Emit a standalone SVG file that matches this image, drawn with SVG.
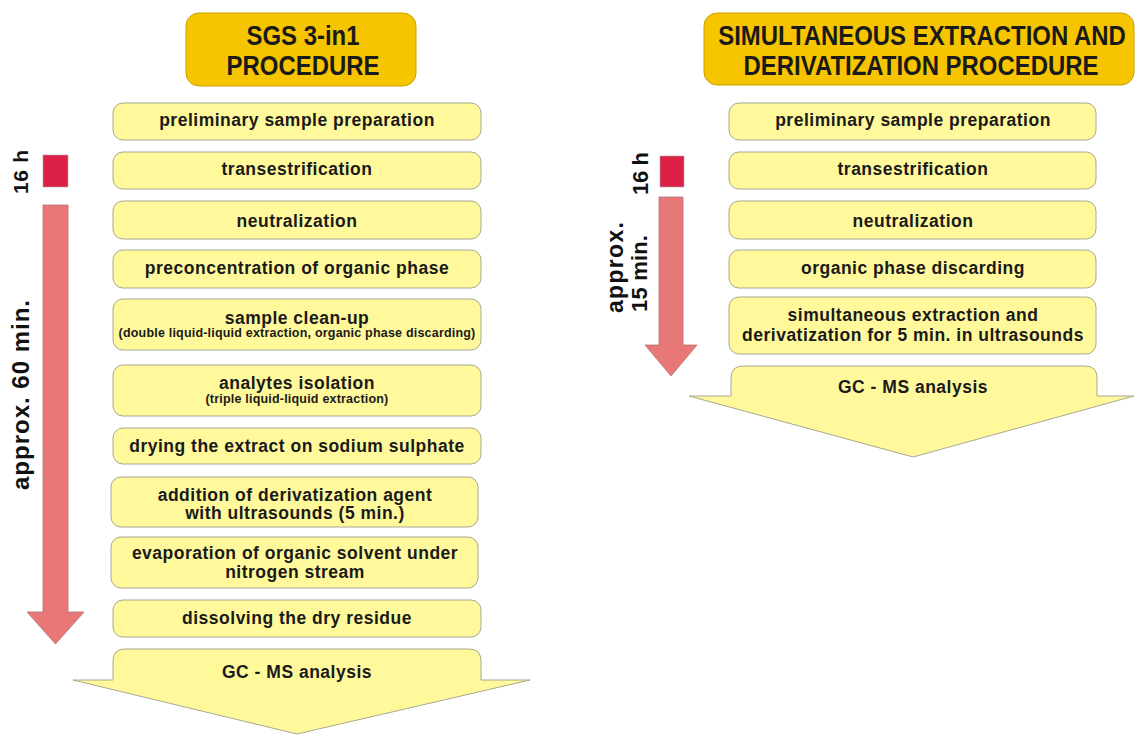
<svg xmlns="http://www.w3.org/2000/svg" width="1135" height="735" viewBox="0 0 1135 735">
<defs>
<style>
.title{fill:#F7C400;stroke:#C9A000;stroke-width:1}
.ttl{font-family:'Liberation Sans',Arial,sans-serif;font-weight:bold;font-size:28.5px;fill:#1a1a1a;text-anchor:middle}
.box{fill:#FFF99C;stroke:#A8A890;stroke-width:1}
.t{font-family:'Liberation Sans',Arial,sans-serif;font-weight:bold;font-size:17.5px;letter-spacing:0.5px;fill:#1a1a1a;text-anchor:middle}
.s{font-family:'Liberation Sans',Arial,sans-serif;font-weight:bold;font-size:12.5px;letter-spacing:0.2px;fill:#1a1a1a;text-anchor:middle}
.red{fill:#DC2048;stroke:#B0A0A0;stroke-width:0.6}
.pink{fill:#E87878;stroke:#B87070;stroke-width:0.8}
.rot{font-family:'Liberation Sans',Arial,sans-serif;font-weight:bold;fill:#111}
</style>
</defs>
<rect width="1135" height="735" fill="#ffffff"/>

<g id="title-left">
<rect class="title" x="186" y="13" width="230" height="73" rx="13"/>
<text class="ttl" transform="translate(303,45) scale(0.84,1)">SGS 3-in1</text>
<text class="ttl" transform="translate(303,75) scale(0.84,1)">PROCEDURE</text>
</g>
<g id="title-right">
<rect class="title" x="704" y="13" width="430" height="72" rx="13"/>
<text class="ttl" transform="translate(922,45) scale(0.84,1)">SIMULTANEOUS EXTRACTION AND</text>
<text class="ttl" transform="translate(921,75) scale(0.84,1)">DERIVATIZATION PROCEDURE</text>
</g>

<g id="L1"><rect class="box" x="113" y="103" width="368" height="37" rx="10"/><text class="t" x="297" y="126">preliminary sample preparation</text></g>
<g id="L2"><rect class="box" x="113" y="152" width="368" height="37" rx="10"/><text class="t" x="297" y="175">transestrification</text></g>
<g id="L3"><rect class="box" x="113" y="201" width="368" height="38" rx="10"/><text class="t" x="297" y="227">neutralization</text></g>
<g id="L4"><rect class="box" x="113" y="250" width="368" height="38" rx="10"/><text class="t" x="297" y="274">preconcentration of organic phase</text></g>
<g id="L5"><rect class="box" x="113" y="299" width="368" height="51" rx="10"/><text class="t" x="297" y="324">sample clean-up</text><text class="s" x="297" y="337">(double liquid-liquid extraction, organic phase discarding)</text></g>
<g id="L6"><rect class="box" x="113" y="365" width="368" height="51" rx="10"/><text class="t" x="297" y="389">analytes isolation</text><text class="s" x="297" y="403">(triple liquid-liquid extraction)</text></g>
<g id="L7"><rect class="box" x="113" y="428" width="368" height="36" rx="10"/><text class="t" x="297" y="452">drying the extract on sodium sulphate</text></g>
<g id="L8"><rect class="box" x="111" y="477" width="367" height="50" rx="10"/><text class="t" x="295" y="501">addition of derivatization agent</text><text class="t" x="295" y="519">with ultrasounds (5 min.)</text></g>
<g id="L9"><rect class="box" x="111" y="537" width="367" height="51" rx="10"/><text class="t" x="295" y="559">evaporation of organic solvent under</text><text class="t" x="295" y="578">nitrogen stream</text></g>
<g id="L10"><rect class="box" x="113" y="600" width="368" height="37" rx="10"/><text class="t" x="297" y="624">dissolving the dry residue</text></g>
<g id="L11"><path class="box" d="M113,680 L113,661 Q113,649 125,649 L469,649 Q481,649 481,661 L481,680 L530,680 L297,734 L73,680 Z"/><text class="t" x="297" y="678">GC - MS analysis</text></g>

<g id="R1"><rect class="box" x="729" y="103" width="367" height="37" rx="10"/><text class="t" x="913" y="126">preliminary sample preparation</text></g>
<g id="R2"><rect class="box" x="729" y="152" width="367" height="37" rx="10"/><text class="t" x="913" y="175">transestrification</text></g>
<g id="R3"><rect class="box" x="729" y="201" width="367" height="38" rx="10"/><text class="t" x="913" y="227">neutralization</text></g>
<g id="R4"><rect class="box" x="729" y="250" width="367" height="38" rx="10"/><text class="t" x="913" y="274">organic phase discarding</text></g>
<g id="R5"><rect class="box" x="729" y="297" width="367" height="57" rx="10"/><text class="t" x="913" y="321">simultaneous extraction and</text><text class="t" x="913" y="341">derivatization for 5 min. in ultrasounds</text></g>
<g id="R6"><path class="box" d="M731,396 L731,378 Q731,366 743,366 L1085,366 Q1097,366 1097,378 L1097,396 L1134,396 L913,457 L689,396 Z"/><text class="t" x="913" y="393">GC - MS analysis</text></g>

<g id="timeline-left">
<rect class="red" x="43" y="155" width="25" height="32"/>
<path class="pink" d="M43,205 L68,205 L68,612 L84,612 L55.5,644 L27,612 L43,612 Z"/>
<text class="rot" font-size="21" transform="translate(28,194) rotate(-90)" textLength="44">16 h</text>
<text class="rot" font-size="24" transform="translate(29,490) rotate(-90)" textLength="190">approx. 60 min.</text>
</g>
<g id="timeline-right">
<rect class="red" x="660" y="156" width="24" height="31"/>
<path class="pink" d="M659,197 L683,197 L683,345 L697,345 L671,376 L645,345 L659,345 Z"/>
<text class="rot" font-size="22" transform="translate(648,195) rotate(-90)" textLength="43">16 h</text>
<text class="rot" font-size="23" transform="translate(623,313) rotate(-90)" textLength="91">approx.</text>
<text class="rot" font-size="22" transform="translate(647,312) rotate(-90)" textLength="77">15 min.</text>
</g>
</svg>
